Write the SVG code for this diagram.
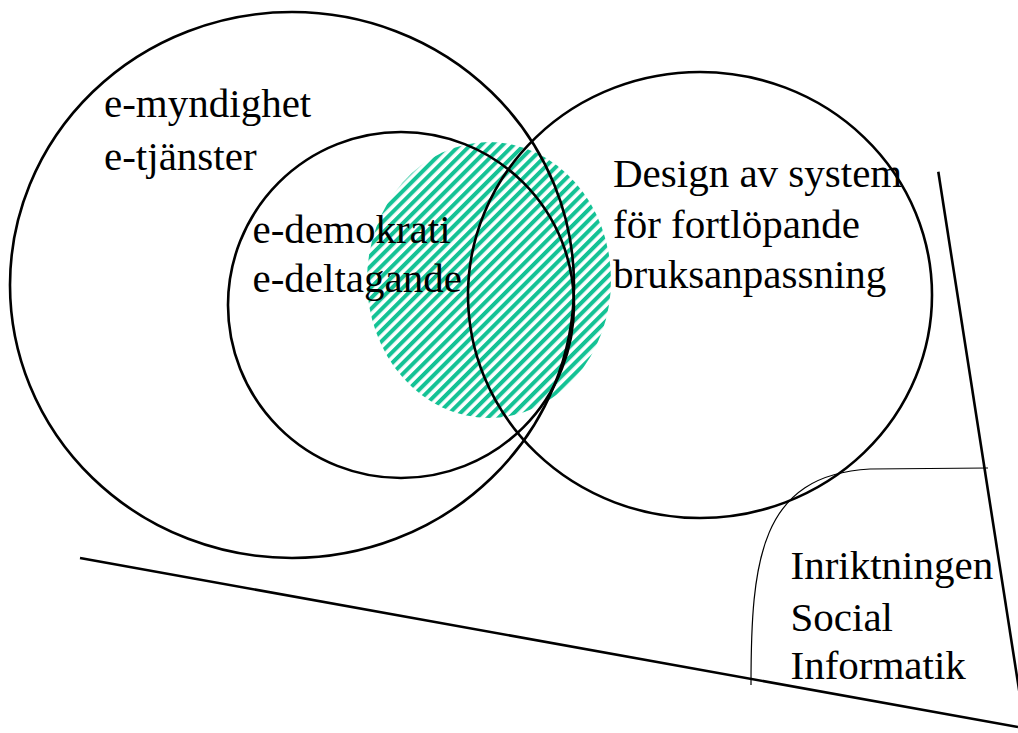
<svg xmlns="http://www.w3.org/2000/svg" width="1018" height="733" viewBox="0 0 1018 733">
<style>
.ring{fill:none;stroke:#000;stroke-width:2.6}
.edge{fill:none;stroke:#000;stroke-width:2.6;stroke-linecap:butt}
.thin{fill:none;stroke:#000;stroke-width:1.2}
.lbl{font-family:"Liberation Serif","Times New Roman",Times,serif;font-size:41px;fill:#000}
</style>
<defs>
<pattern id="hatch" patternUnits="userSpaceOnUse" width="7.6" height="7.6" patternTransform="rotate(45)">
<rect x="0" y="0" width="4" height="7.6" fill="#14c295"/>
</pattern>
</defs>
<rect width="1018" height="733" fill="#fff"/>
<g id="hatched-area">
<ellipse cx="489" cy="280" rx="122" ry="138" fill="url(#hatch)"/>
</g>
<g id="e-myndighet">
<ellipse class="ring" cx="292" cy="285" rx="282" ry="273"/>
<text class="lbl" x="104" y="117">e-myndighet</text>
<text class="lbl" x="104" y="170">e-tjänster</text>
</g>
<g id="e-demokrati">
<circle class="ring" cx="401" cy="305" r="173"/>
<text class="lbl" x="252.5" y="243">e-demokrati</text>
<text class="lbl" x="252.5" y="292">e-deltagande</text>
</g>
<g id="design">
<ellipse class="ring" cx="700" cy="295" rx="232" ry="223"/>
<text class="lbl" x="613" y="187">Design av system</text>
<text class="lbl" x="613" y="238">för fortlöpande</text>
<text class="lbl" x="613" y="288">bruksanpassning</text>
</g>
<g id="social-informatik">
<path class="thin" d="M751,685 C751,560 760,475 870,469 L988,468"/>
<text class="lbl" x="790.5" y="579">Inriktningen</text>
<text class="lbl" x="790.5" y="631">Social</text>
<text class="lbl" x="790.5" y="679">Informatik</text>
</g>
<g id="connectors">
<line class="edge" x1="80" y1="558" x2="1018" y2="727"/>
<line class="edge" x1="938.3" y1="171.7" x2="1020" y2="696"/>
</g>
</svg>
